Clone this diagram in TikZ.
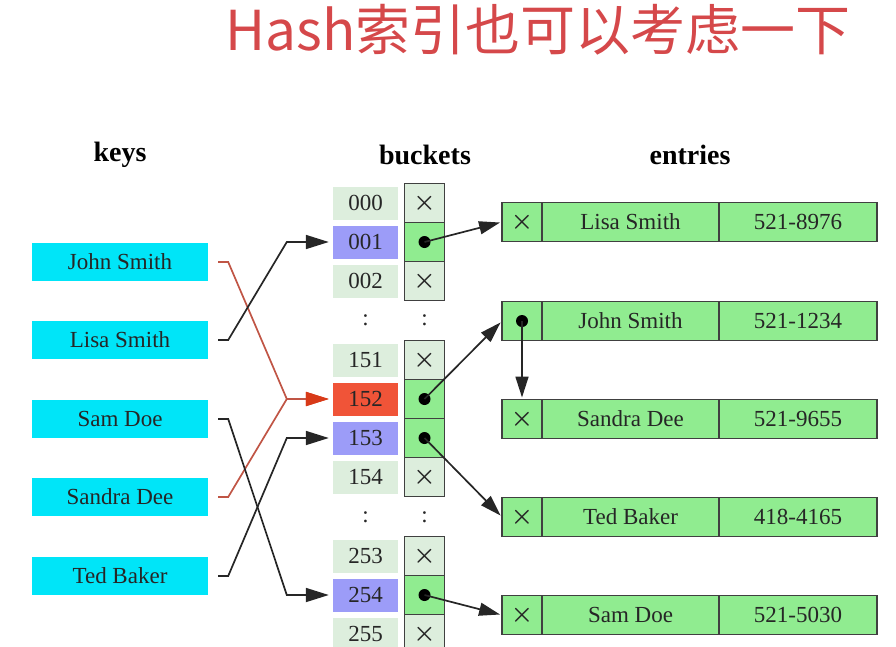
\documentclass[tikz,border=0pt]{standalone}
\usepackage{fontspec}
\setmainfont{Liberation Serif}
\newfontfamily\cjk{Noto Sans CJK SC}
\usetikzlibrary{arrows.meta, positioning}

\definecolor{keycyan}{HTML}{00E5F8}
\definecolor{slotgray}{HTML}{DDEEDD}
\definecolor{slotblue}{HTML}{9C9CF8}
\definecolor{slotred}{HTML}{F05438}
\definecolor{cellgreen}{HTML}{90EC90}
\definecolor{titlered}{HTML}{D5484A}
\definecolor{linkred}{HTML}{C05545}
\definecolor{tipred}{HTML}{D83A18}

\newcommand{\xmark}{{\fontsize{28}{28}\selectfont\boldmath$\times$}}

\tikzset{
  txt/.style={font=\fontsize{23}{26}\selectfont, text=black!85},
  head/.style={font=\fontsize{28}{30}\selectfont\bfseries},
  keybox/.style={txt, fill=keycyan, minimum width=176pt, minimum height=38pt, inner sep=0pt},
  slot/.style={txt, minimum width=65pt, minimum height=33pt, inner sep=0pt},
  cell/.style={txt, draw=black!75, line width=1.5pt, minimum width=40pt, minimum height=39pt, inner sep=0pt},
  entry/.style={txt, draw=black!75, fill=cellgreen, line width=1.5pt, minimum height=39pt, inner sep=0pt, outer sep=0pt},
  link/.style={line width=1.7pt, black!85, shorten >=4pt, -{Triangle[length=23pt, width=14pt]}},
  redlink/.style={link, linkred, -{Triangle[length=23pt, width=14pt, fill=tipred, color=tipred]}},
  ptr/.style={line width=1.7pt, black!85, shorten >=2pt, -{Triangle[length=21pt, width=13pt]}}
}

\begin{document}
\begin{tikzpicture}[x=1pt, y=-1pt]
  \useasboundingbox (0,0) rectangle (896,646);

  % Title
  \node[text=titlered, font=\cjk\fontsize{55}{57}\selectfont] (title) at (538,30) {Hash索引也可以考虑一下};

  % Column heads
  \node[head] (hkeys) at (120,155) {keys};
  \node[head] (hbuckets) at (425,155) {buckets};
  \node[head] (hentries) at (690,155) {entries};

  % Keys
  \node[keybox] (kjohn) at (120,262) {John Smith};
  \node[keybox] (klisa) at (120,340) {Lisa Smith};
  \node[keybox] (ksam) at (120,419) {Sam Doe};
  \node[keybox] (ksandra) at (120,497) {Sandra Dee};
  \node[keybox] (kted) at (120,576) {Ted Baker};

  % Buckets and their pointer cells
  \foreach \id/\y/\col/\cfill/\mk in {
      000/203/slotgray/slotgray/\xmark, 001/242/slotblue/cellgreen/{},
      002/281/slotgray/slotgray/\xmark, 151/360/slotgray/slotgray/\xmark,
      152/399/slotred/cellgreen/{}, 153/438/slotblue/cellgreen/{},
      154/477/slotgray/slotgray/\xmark, 253/556/slotgray/slotgray/\xmark,
      254/595/slotblue/cellgreen/{}, 255/634/slotgray/slotgray/\xmark} {
    \node[slot, fill=\col] (b\id) at (365.5,\y) {\id};
    \node[cell, fill=\cfill] (c\id) at (424.5,\y) {\mk};
  }
  \foreach \c in {c001, c152, c153, c254}
    \fill[black] (\c.center) circle (6pt);

  \node[txt] (gap1) at (365.5,320) {:};
  \node[txt] (gap2) at (424.5,320) {:};
  \node[txt] (gap3) at (365.5,517) {:};
  \node[txt] (gap4) at (424.5,517) {:};

  % Entries
  \foreach \nm/\y/\who/\tel/\mk in {
      lisa/222/Lisa Smith/521-8976/\xmark, john/321/John Smith/521-1234/{},
      sandra/419/Sandra Dee/521-9655/\xmark, ted/517/Ted Baker/418-4165/\xmark,
      sam/615/Sam Doe/521-5030/\xmark} {
    \node[entry, minimum width=40pt] (\nm-p) at (522,\y) {\mk};
    \node[entry, minimum width=177pt, right=0pt of \nm-p] (\nm-n) {\who};
    \node[entry, minimum width=158pt, right=0pt of \nm-n] (\nm-t) {\tel};
  }
  \fill[black] (john-p.center) circle (6pt);

  % Hash links
  \draw[redlink] ([xshift=10pt]kjohn.east) -- ++(10,0) -- ([xshift=-46pt]b152.west) -- (b152.west);
  \draw[redlink] ([xshift=10pt]ksandra.east) -- ++(10,0) -- ([xshift=-46pt]b152.west) -- (b152.west);
  \draw[link] ([xshift=10pt]klisa.east) -- ++(10,0) -- ([xshift=-46pt]b001.west) -- (b001.west);
  \draw[link] ([xshift=10pt]ksam.east) -- ++(10,0) -- ([xshift=-46pt]b254.west) -- (b254.west);
  \draw[link] ([xshift=10pt]kted.east) -- ++(10,0) -- ([xshift=-46pt]b153.west) -- (b153.west);

  % Pointers
  \draw[ptr] (c001.center) -- (lisa-p.west);
  \draw[ptr] (c152.center) -- (john-p.west);
  \draw[ptr] (c153.center) -- (ted-p.west);
  \draw[ptr] (c254.center) -- (sam-p.west);
  \draw[ptr] (john-p.center) -- (sandra-p.north);
\end{tikzpicture}
\end{document}
